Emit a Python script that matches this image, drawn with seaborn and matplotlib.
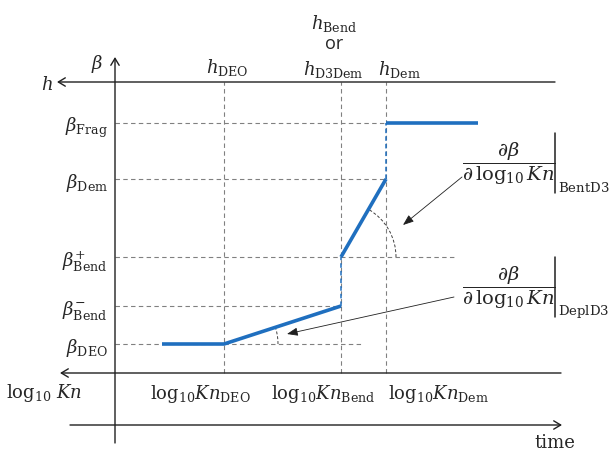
import numpy as np
import pandas as pd
import matplotlib
matplotlib.use("Agg")
import matplotlib.pyplot as plt
from matplotlib.patches import Arc
import seaborn as sns

# Positions along the horizontal axis (log10 Kn / time)
x_start, x_deo, x_bend, x_dem, x_end = 162, 224, 341, 386, 478
# Ballistic-coefficient levels
beta_deo, beta_bend_minus, beta_bend_plus, beta_dem, beta_frag = 107, 145, 194, 272, 328

# Axis geometry
axis_x = 115
h_axis_y, kn_axis_y, time_axis_y = 369, 78, 26

beta_labels = [r"$\beta_{\mathrm{Frag}}$", r"$\beta_{\mathrm{Dem}}$", r"$\beta^{+}_{\mathrm{Bend}}$",
               r"$\beta^{-}_{\mathrm{Bend}}$", r"$\beta_{\mathrm{DEO}}$"]
beta_levels = [beta_frag, beta_dem, beta_bend_plus, beta_bend_minus, beta_deo]
kn_labels = [r"$\log_{10}\!Kn_{\mathrm{DEO}}$", r"$\log_{10}\!Kn_{\mathrm{Bend}}$",
             r"$\log_{10}\!Kn_{\mathrm{Dem}}$"]

sns.set_theme(style="white")
plt.rcParams["mathtext.fontset"] = "dejavuserif"
plt.rcParams["font.family"] = ["DejaVu Serif"]

fig = plt.figure(figsize=(6.12, 4.52), dpi=100)
ax = fig.add_axes([0, 0, 1, 1])
ax.set_xlim(0, 612)
ax.set_ylim(0, 452)
ax.axis("off")

blue = "#1F6FBF"
grid_kw = dict(color="#808080", lw=0.8, linestyle=(0, (4, 3)))

# dashed guide lines
for xv in (x_deo, x_bend, x_dem):
    ax.plot([xv, xv], [kn_axis_y, h_axis_y], **grid_kw)
guide_ends = {beta_frag: x_dem, beta_dem: x_dem, beta_bend_plus: 455,
              beta_bend_minus: x_bend, beta_deo: 362}
for lvl, xe in guide_ends.items():
    ax.plot([axis_x, xe], [lvl, lvl], **grid_kw)

# beta evolution: solid segments and dashed jumps
solid = pd.DataFrame({
    "x": [x_start, x_deo, x_bend, x_bend, x_dem, x_dem, x_end],
    "beta": [beta_deo, beta_deo, beta_bend_minus, beta_bend_plus, beta_dem, beta_frag, beta_frag],
    "seg": [0, 0, 0, 1, 1, 2, 2],
})
for _, g in solid.groupby("seg"):
    sns.lineplot(data=g, x="x", y="beta", ax=ax, color=blue, lw=2.6, sort=False,
                 estimator=None, legend=False, solid_capstyle="butt")
jumps = pd.DataFrame({
    "x": [x_bend, x_bend, x_dem, x_dem],
    "beta": [beta_bend_minus, beta_bend_plus, beta_dem, beta_frag],
    "seg": [0, 0, 1, 1],
})
for _, g in jumps.groupby("seg"):
    sns.lineplot(data=g, x="x", y="beta", ax=ax, color=blue, lw=1.1, sort=False,
                 estimator=None, legend=False, linestyle=(0, (3, 2)))

# axes with arrows
ax_kw = dict(arrowstyle="->,head_length=0.5,head_width=0.3", color="#202020", lw=1.0,
             shrinkA=0, shrinkB=0, mutation_scale=10)
ax.annotate("", xy=(57, h_axis_y), xytext=(555, h_axis_y), arrowprops=ax_kw)
ax.annotate("", xy=(60, kn_axis_y), xytext=(561, kn_axis_y), arrowprops=ax_kw)
ax.annotate("", xy=(562, time_axis_y), xytext=(70, time_axis_y), arrowprops=ax_kw)
ax.annotate("", xy=(axis_x, 394), xytext=(axis_x, 8), arrowprops=ax_kw)

# slope angle arcs
def slope_arc(x0, y0, x1, y1, r):
    ang = np.degrees(np.arctan2(y1 - y0, x1 - x0))
    ax.add_patch(Arc((x0, y0), 2 * r, 2 * r, theta1=0, theta2=ang,
                     color="#404040", lw=0.7, linestyle=(0, (3, 2))))
slope_arc(x_bend, beta_bend_plus, x_dem, beta_dem, 55)
slope_arc(x_deo, beta_deo, x_bend, beta_bend_minus, 54)

# pointer arrows to the slopes
ptr_kw = dict(arrowstyle="-|>,head_length=0.65,head_width=0.25", color="#202020", lw=0.6,
              shrinkA=0, shrinkB=0, mutation_scale=10)
ax.annotate("", xy=(403, 226), xytext=(462, 274), arrowprops=ptr_kw)
ax.annotate("", xy=(287, 117), xytext=(454, 154), arrowprops=ptr_kw)

fs = 13
# axis names
ax.text(97, 388, r"$\beta$", fontsize=fs, ha="center", va="center")
ax.text(47, 367, r"$h$", fontsize=fs, ha="center", va="center")
ax.text(44, 59, r"$\log_{10}\,Kn$", fontsize=fs, ha="center", va="center")
ax.text(555, 9, "time", fontsize=fs, ha="center", va="center", family="DejaVu Serif")

# altitude labels
ax.text(227, 385, r"$h_{\mathrm{DEO}}$", fontsize=fs, ha="center", va="center")
ax.text(334, 429, r"$h_{\mathrm{Bend}}$", fontsize=fs, ha="center", va="center")
ax.text(334, 408, "or", fontsize=fs, ha="center", va="center", family="Open Sans")
ax.text(333, 383, r"$h_{\mathrm{D3Dem}}$", fontsize=fs, ha="center", va="center")
ax.text(399, 383, r"$h_{\mathrm{Dem}}$", fontsize=fs, ha="center", va="center")

# beta level labels
for lab, lvl in zip(beta_labels, beta_levels):
    ax.text(108, lvl, lab, fontsize=fs, ha="right", va="center_baseline")

# log10 Kn labels
for lab, xc in zip(kn_labels, (200, 323, 439)):
    ax.text(xc, 58, lab, fontsize=fs, ha="center", va="center")

# slope derivative labels
frac = r"$\dfrac{\partial\beta}{\partial\,\log_{10}Kn}$"
for yc, sub in ((288, "BentD3"), (164, "DeplD3")):
    ax.text(509, yc, frac, fontsize=fs + 1, ha="center", va="center")
    ax.plot([555, 555], [yc - 30, yc + 30], color="#202020", lw=1.1)
    ax.text(558, yc - 24, r"$\mathrm{" + sub + "}$", fontsize=9.5, ha="left", va="center")

fig.savefig("out.png", dpi=100)
